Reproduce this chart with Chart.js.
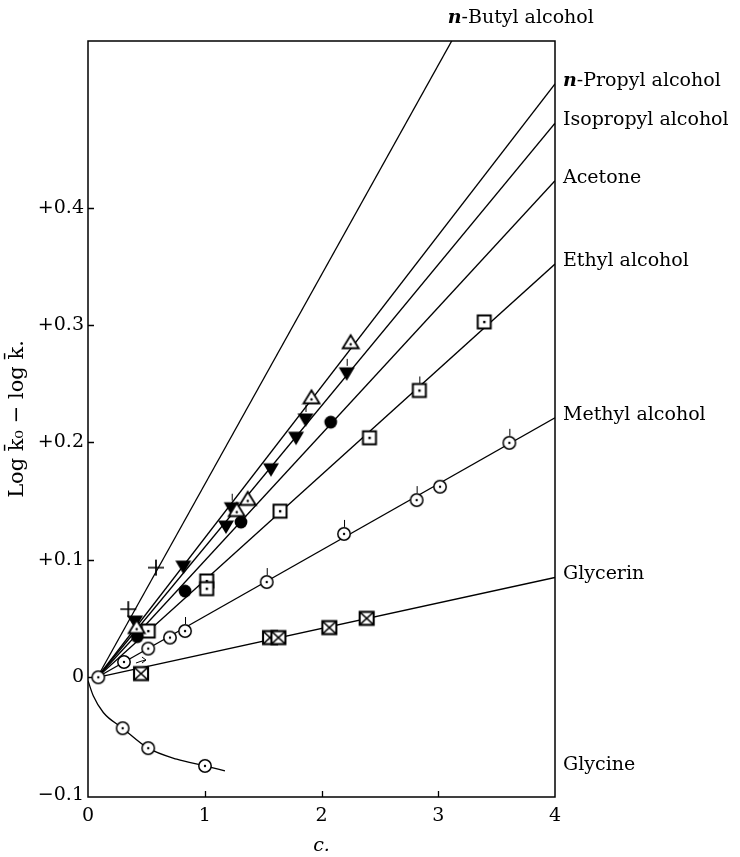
<!DOCTYPE html>
<html><head><meta charset="utf-8">
<script src="https://cdn.jsdelivr.net/npm/chart.js@4.4.1/dist/chart.umd.min.js"></script>
<style>html,body{margin:0;padding:0;background:#fff;}#wrap{width:740px;height:857px;}</style>
</head><body><div id="wrap"><canvas id="c" width="740" height="857"></canvas></div>
<script>
// ---- data ----
const seriesNames = ['n-Butyl alcohol','n-Propyl alcohol','Isopropyl alcohol','Acetone','Ethyl alcohol','Methyl alcohol','Glycerin','Glycine'];
const cButyl = [0.345, 0.582];
const yButyl = [0.058, 0.0934];
const cPropyl = [0.417, 1.274, 1.368, 1.914, 2.25];
const yPropyl = [0.0423, 0.142, 0.1515, 0.238, 0.285];
const cIsopropyl = [0.403, 0.816, 1.182, 1.231, 1.567, 1.782, 1.863, 2.216];
const yIsopropyl = [0.0479, 0.0947, 0.1288, 0.1444, 0.1776, 0.2045, 0.220, 0.2593];
const cAcetone = [0.422, 0.831, 1.31, 2.079];
const yAcetone = [0.0346, 0.0734, 0.1322, 0.2173];
const cEthyl = [0.516, 1.017, 1.017, 1.645, 2.411, 2.838, 3.394];
const yEthyl = [0.0394, 0.082, 0.0755, 0.1415, 0.204, 0.2443, 0.3027];
const cMethyl = [0.088, 0.308, 0.516, 0.702, 0.831, 1.531, 2.193, 2.815, 3.015, 3.609];
const yMethyl = [0, 0.013, 0.0244, 0.0338, 0.0394, 0.0811, 0.1221, 0.1509, 0.1623, 0.1997];
const cGlycerin = [0.454, 1.559, 1.631, 2.067, 2.387];
const yGlycerin = [0.0031, 0.0338, 0.0338, 0.0423, 0.0502];
const cGlycine = [0.297, 0.516, 1.002];
const yGlycine = [-0.0434, -0.0604, -0.0755];
const cGlycineCurve = [0, 0.046, 0.131, 0.297, 0.516, 0.76, 1.0, 1.173];
const yGlycineCurve = [-0.003, -0.016, -0.030, -0.0434, -0.0604, -0.0698, -0.0755, -0.0797];
// fitted straight lines: common start point, value at c = 4 for each solvent (butyl .. glycerin)
const fitStart = [0.08, 0];
const fitEndC = 4;
const fitEndY = [0.70, 0.5055, 0.472, 0.423, 0.352, 0.221, 0.085];
// axes
const xTickValues = [0, 1, 2, 3, 4];
const xTickLabels = ['0', '1', '2', '3', '4'];
const yTickValues = [-0.1, 0, 0.1, 0.2, 0.3, 0.4];
const yTickLabels = ['\u22120.1', '0', '+0.1', '+0.2', '+0.3', '+0.4'];
const xMin = 0, xMax = 4, yMin = -0.102, yMax = 0.542;
// small marks drawn above some points (indices)
const flagsMethyl = [4, 5, 6, 7, 9];
const flagsIsopropyl = [3, 6, 7];
const flagsEthyl = [5];

// ---- marker images ----
function mk(size, draw){const cv=document.createElement('canvas');cv.width=size;cv.height=size;const g=cv.getContext('2d');g.translate(size/2,size/2);g.strokeStyle='#000';g.fillStyle='#000';draw(g);return cv;}
const mCross = mk(20, g=>{g.lineWidth=1.7;g.beginPath();g.moveTo(-8,0);g.lineTo(8,0);g.moveTo(0,-8);g.lineTo(0,8);g.stroke();});
const mTriOpen = mk(20, g=>{g.lineWidth=1.8;g.beginPath();g.moveTo(0,-7.5);g.lineTo(8,5.5);g.lineTo(-8,5.5);g.closePath();g.fillStyle='#fff';g.fill();g.stroke();g.fillStyle='#000';g.beginPath();g.arc(0,1.5,1.2,0,7);g.fill();});
const mTriDown = mk(20, g=>{g.beginPath();g.moveTo(-8,-5.5);g.lineTo(8,-5.5);g.lineTo(0,8);g.closePath();g.fill();});
const mDisc = mk(16, g=>{g.beginPath();g.arc(0,0,6.4,0,7);g.fill();});
const mSquare = mk(18, g=>{g.lineWidth=2;g.fillStyle='#fff';g.fillRect(-6.5,-6.5,13,13);g.strokeRect(-6.5,-6.5,13,13);g.fillStyle='#000';g.fillRect(-1.1,-1.1,2.4,2.4);});
const mCircle = mk(18, g=>{g.lineWidth=1.5;g.beginPath();g.arc(0,0,6.2,0,7);g.fillStyle='#fff';g.fill();g.stroke();g.fillStyle='#000';g.beginPath();g.arc(0,0,1.2,0,7);g.fill();});
const mXSquare = mk(18, g=>{g.lineWidth=2.1;g.fillStyle='#fff';g.fillRect(-7,-6.5,14,13);g.strokeRect(-7,-6.5,14,13);g.lineWidth=1.7;g.beginPath();g.moveTo(-6.5,-6);g.lineTo(6.5,6);g.moveTo(6.5,-6);g.lineTo(-6.5,6);g.stroke();});

// ---- datasets ----
const pts = (cs, ys) => cs.map((c, i) => ({x: c, y: ys[i]}));
const fitLine = i => [{x: fitStart[0], y: fitStart[1]}, {x: fitEndC, y: fitEndY[i]}];
const lineDs = (data, extra) => Object.assign({data, showLine: true, borderColor: '#000', borderWidth: 1.3, pointRadius: 0, fill: false, order: 2}, extra || {});
const markDs = (data, style, flags) => ({data, pointStyle: style, pointRadius: 7, showLine: false, order: 1, flags: flags || []});

const datasets = [
  markDs(pts(cButyl, yButyl), mCross),
  markDs(pts(cPropyl, yPropyl), mTriOpen),
  markDs(pts(cIsopropyl, yIsopropyl), mTriDown, flagsIsopropyl),
  markDs(pts(cAcetone, yAcetone), mDisc),
  markDs(pts(cEthyl, yEthyl), mSquare, flagsEthyl),
  markDs(pts(cMethyl, yMethyl), mCircle, flagsMethyl),
  markDs(pts(cGlycerin, yGlycerin), mXSquare),
  markDs(pts(cGlycine, yGlycine), mCircle),
  ...fitEndY.map((v, i) => lineDs(fitLine(i))),
  lineDs(pts(cGlycineCurve, yGlycineCurve), {cubicInterpolationMode: 'monotone'})
];

const FONT = "'DejaVu Serif', 'Liberation Serif', serif";
const LABEL_SIZE = 19;

const framePlugin = {
  id: 'frame',
  beforeDatasetsDraw(chart) {
    const {ctx, chartArea: a, scales: {x, y}} = chart;
    ctx.save();
    ctx.strokeStyle = '#000';
    ctx.lineWidth = 1.5;
    ctx.strokeRect(a.left, a.top, a.right - a.left, a.bottom - a.top);
    ctx.lineWidth = 1.3;
    ctx.beginPath();
    yTickValues.forEach(v => { const p = Math.round(y.getPixelForValue(v)) + 0.5; if (p < a.bottom - 3) { ctx.moveTo(a.left, p); ctx.lineTo(a.left + 6, p); } });
    xTickValues.forEach(v => { const p = Math.round(x.getPixelForValue(v)) + 0.5; if (p > a.left + 3 && p < a.right - 3) { ctx.moveTo(p, a.bottom); ctx.lineTo(p, a.bottom - 6); } });
    ctx.stroke();
    ctx.restore();
  },
  afterDatasetsDraw(chart) {
    const {ctx} = chart;
    ctx.save();
    ctx.strokeStyle = '#000';
    ctx.lineWidth = 1;
    chart.data.datasets.forEach((ds, di) => {
      if (!ds.flags || !ds.flags.length) return;
      const meta = chart.getDatasetMeta(di);
      ds.flags.forEach(i => { const el = meta.data[i]; if (!el) return; ctx.beginPath(); ctx.moveTo(el.x + 0.5, el.y - 7); ctx.lineTo(el.x + 0.5, el.y - 14); ctx.stroke(); });
    });
    // small arrow beside the second methyl point
    const m = chart.getDatasetMeta(5).data[1];
    if (m) {
      ctx.beginPath(); ctx.moveTo(m.x + 12, m.y + 1); ctx.quadraticCurveTo(m.x + 17, m.y - 1, m.x + 22, m.y - 2); ctx.stroke();
      ctx.beginPath(); ctx.moveTo(m.x + 22, m.y - 2); ctx.lineTo(m.x + 18, m.y - 5); ctx.moveTo(m.x + 22, m.y - 2); ctx.lineTo(m.x + 18, m.y + 1); ctx.stroke();
    }
    ctx.restore();
  }
};

function drawName(ctx, name, x, y) {
  if (name.startsWith('n-')) {
    ctx.font = "bold italic " + LABEL_SIZE + "px " + FONT;
    ctx.fillText('n', x, y);
    const w = ctx.measureText('n').width;
    ctx.font = LABEL_SIZE + "px " + FONT;
    ctx.fillText(name.slice(1), x + w, y);
  } else {
    ctx.font = LABEL_SIZE + "px " + FONT;
    ctx.fillText(name, x, y);
  }
}

const labelPlugin = {
  id: 'labels',
  afterDraw(chart) {
    const {ctx, chartArea: a, scales: {x, y}} = chart;
    ctx.save();
    ctx.fillStyle = '#000';
    ctx.textBaseline = 'middle';
    ctx.textAlign = 'left';
    for (let i = 1; i < fitEndY.length; i++) {
      drawName(ctx, seriesNames[i], a.right + 8, y.getPixelForValue(fitEndY[i]) - 3);
    }
    drawName(ctx, seriesNames[7], a.right + 8, y.getPixelForValue(yGlycineCurve[yGlycineCurve.length - 1]) - 6);
    // butyl: where its line leaves the top of the frame
    const cTop = fitStart[0] + (yMax - fitStart[1]) * (fitEndC - fitStart[0]) / (fitEndY[0] - fitStart[1]);
    drawName(ctx, seriesNames[0], x.getPixelForValue(cTop) - 4, a.top - 23);
    ctx.restore();
  }
};

new Chart(document.getElementById('c'), {
  type: 'scatter',
  data: {datasets},
  options: {
    responsive: false,
    devicePixelRatio: 1,
    animation: false,
    layout: {padding: {left: 0, right: 185, top: 41, bottom: 0}},
    plugins: {legend: {display: false}, tooltip: {enabled: false}},
    elements: {line: {tension: 0}},
    scales: {
      x: {
        type: 'linear', min: xMin, max: xMax,
        afterBuildTicks: s => { s.ticks = xTickValues.map(v => ({value: v})); },
        afterFit: s => { s.height = 60; },
        grid: {display: false, drawTicks: false},
        border: {display: false},
        ticks: {padding: 8, color: '#000', font: {family: FONT, size: 19}, maxRotation: 0, callback: (v, i) => xTickLabels[i]},
        title: {display: true, text: 'c.', color: '#000', font: {family: FONT, size: 19, style: 'italic'}, padding: {top: 0, bottom: 0}}
      },
      y: {
        type: 'linear', min: yMin, max: yMax,
        afterBuildTicks: s => { s.ticks = yTickValues.map(v => ({value: v})); },
        afterFit: s => { s.width = 88; },
        grid: {display: false, drawTicks: false},
        border: {display: false},
        ticks: {padding: 4, color: '#000', font: {family: FONT, size: 19}, callback: (v, i) => yTickLabels[i]},
        title: {display: true, text: 'Log k\u0304\u2080 \u2212 log k\u0304.', color: '#000', font: {family: FONT, size: 21}, padding: {top: 5, bottom: 0}}
      }
    }
  },
  plugins: [framePlugin, labelPlugin]
});
</script>
</body></html>
